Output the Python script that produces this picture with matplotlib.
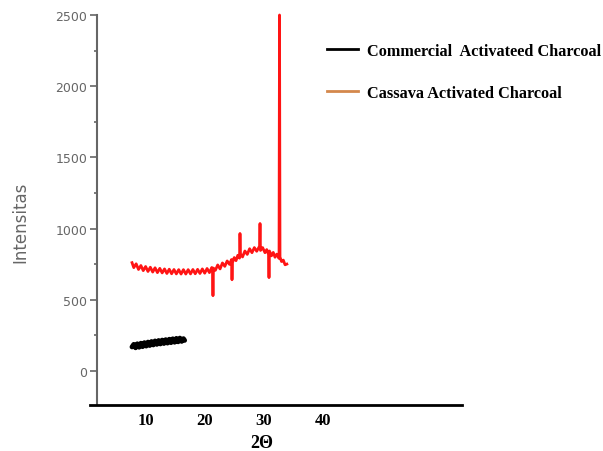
import matplotlib
matplotlib.use('Agg')
import matplotlib.pyplot as plt
from matplotlib.lines import Line2D
from matplotlib.ticker import MultipleLocator

# Data (2-theta vs intensity)
black_x = [7.7, 8.0, 8.3, 8.6, 8.9, 9.2, 9.5, 9.8, 10.1, 10.4, 10.7, 11.0, 11.3, 11.6,
           11.9, 12.2, 12.5, 12.8, 13.1, 13.4, 13.7, 14.0, 14.3, 14.6, 14.9, 15.2,
           15.5, 15.8, 16.1, 16.4, 16.6]
black_y = [168, 186, 162, 190, 166, 194, 170, 198, 174, 202, 178, 206, 182, 210,
           186, 213, 189, 216, 192, 219, 195, 222, 198, 225, 201, 228,
           204, 230, 207, 226, 214]

red_x = [7.7, 8.0, 8.4, 8.8, 9.2, 9.6, 10.0, 10.4, 10.8, 11.2, 11.6, 12.0, 12.4, 12.8,
         13.2, 13.6, 14.0, 14.4, 14.8, 15.2, 15.6, 16.0, 16.4, 16.8, 17.2, 17.6,
         18.0, 18.4, 18.8, 19.2, 19.6, 20.0, 20.4, 20.8, 21.2, 21.32, 21.40, 21.48,
         21.8, 22.2, 22.6, 23.0, 23.4, 23.8, 24.2, 24.54, 24.62, 24.70, 25.0, 25.3,
         25.6, 25.89, 25.97, 26.05, 26.4, 26.8, 27.2, 27.6, 28.0, 28.4, 28.8, 29.28,
         29.36, 29.44, 29.8, 30.2, 30.5, 30.80, 30.88, 30.96, 31.3, 31.6, 31.9, 32.2,
         32.58, 32.66, 32.74, 33.0, 33.3, 33.6, 33.9]
red_y = [760, 725, 752, 712, 740, 704, 733, 698, 728, 694, 724, 690, 720, 688,
         716, 684, 714, 682, 712, 681, 711, 680, 711, 680, 711, 681,
         712, 682, 713, 684, 716, 686, 719, 690, 726, 706, 528, 722,
         706, 744, 716, 758, 734, 772, 748, 782, 640, 760, 796, 774,
         812, 792, 965, 822, 800, 842, 818, 858, 830, 866, 840, 876,
         1035, 846, 866, 830, 852, 818, 655, 842, 808, 832, 798, 820,
         790, 2500, 800, 768, 778, 745, 750]

x_ticks = [10, 20, 30, 40]
y_ticks = [0, 500, 1000, 1500, 2000, 2500]
legend_labels = ['Commercial  Activateed Charcoal', 'Cassava Activated Charcoal']
legend_colors = ['black', '#d4884c']

fig = plt.figure(figsize=(6.03, 4.52), dpi=100)
ax = fig.add_axes([90 / 603, 46 / 452, 372 / 603, 390 / 452])

ax.plot(black_x, black_y, color='black', lw=3.5, solid_capstyle='round')
ax.plot(red_x, red_y, color='#ff1414', lw=2, clip_on=False)

ax.set_xlim(0.59, 63.54)
ax.set_ylim(-240, 2500)

# spines
ax.spines['top'].set_visible(False)
ax.spines['right'].set_visible(False)
ax.spines['left'].set_position(('data', 1.78))
ax.spines['left'].set_color('#666666')
ax.spines['left'].set_linewidth(1.5)
ax.spines['bottom'].set_color('black')
ax.spines['bottom'].set_linewidth(2)

# y axis
ax.set_yticks(y_ticks)
ax.yaxis.set_minor_locator(MultipleLocator(250))
ax.tick_params(axis='y', which='major', direction='out', length=5, width=1.2,
               color='#666666', labelcolor='#666666', labelsize=9, pad=2)
ax.tick_params(axis='y', which='minor', direction='out', length=2.5, width=1.2,
               color='#666666')
for lbl in ax.get_yticklabels():
    lbl.set_family('DejaVu Sans')

# x axis
ax.set_xticks(x_ticks)
ax.tick_params(axis='x', length=0, pad=5)
for lbl in ax.get_xticklabels():
    lbl.set_family('Liberation Serif')
    lbl.set_fontweight('bold')
    lbl.set_fontsize(12)

ax.set_xlabel('2\u0398', family='Liberation Serif', fontweight='bold', fontsize=13)
ax.xaxis.set_label_coords(0.462, -0.075)

fig.text(20 / 603, 1 - 222 / 452, 'Intensitas', rotation=90, ha='center', va='center',
         family='DejaVu Sans', fontsize=12, color='#666666')

handles = [Line2D([], [], color=c, lw=2) for c in legend_colors]
fig.legend(handles, legend_labels, loc='upper left', bbox_to_anchor=(327 / 603, 1 - 44 / 452),
           frameon=False, borderpad=0, borderaxespad=0, handlelength=1.9,
           handletextpad=0.55, labelspacing=1.6,
           prop={'family': 'Liberation Serif', 'weight': 'bold', 'size': 11.7})

fig.savefig('out.png', dpi=100)
